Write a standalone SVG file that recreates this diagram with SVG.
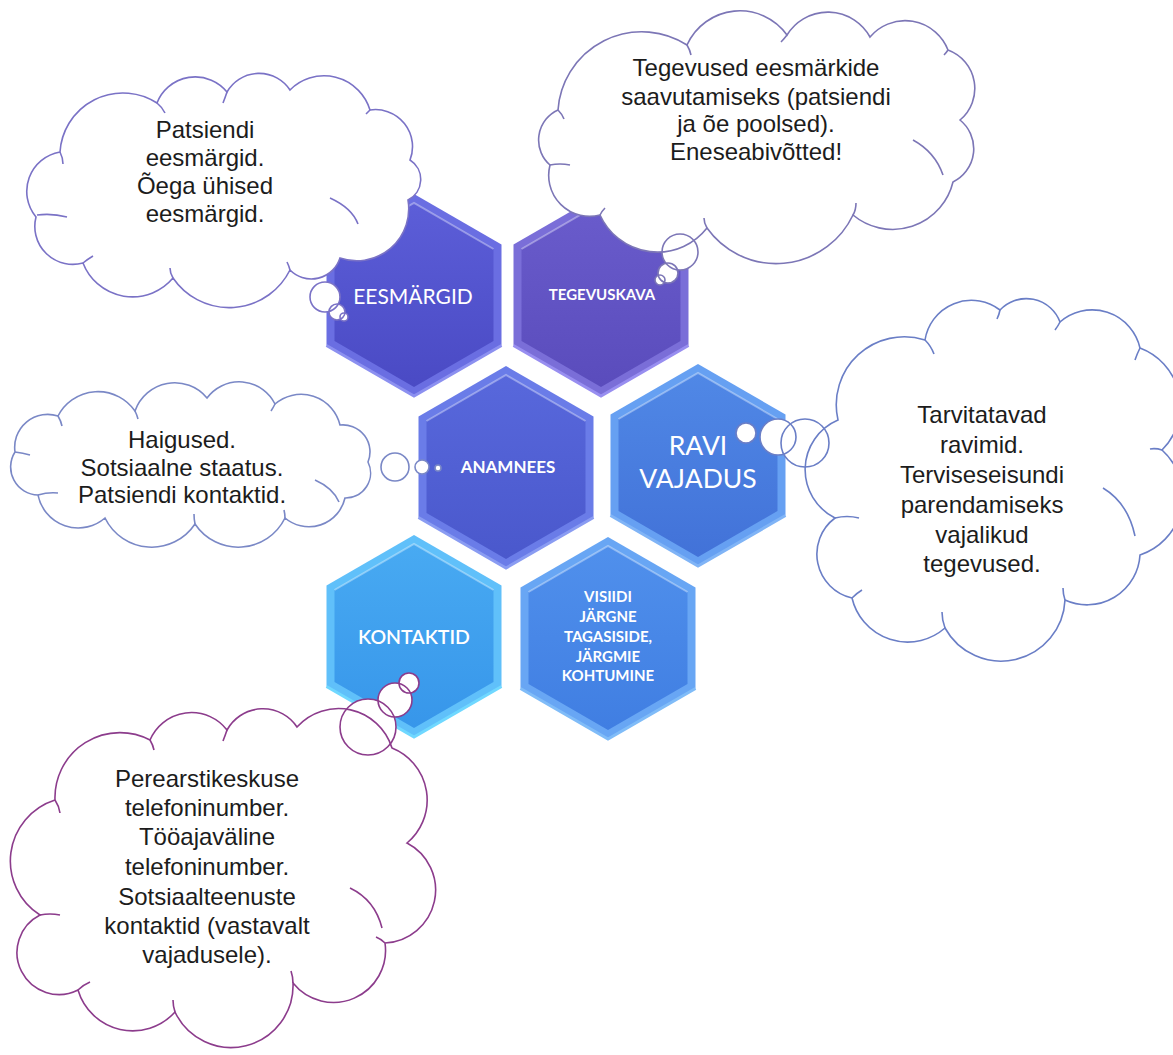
<svg xmlns="http://www.w3.org/2000/svg" width="1173" height="1055" viewBox="0 0 1173 1055">
<style>
.ctext{font-family:"Liberation Sans",Arial,sans-serif;font-size:24px;fill:#1c1c1c;text-anchor:middle}
.htext{font-family:Lato,"Open Sans",sans-serif;fill:#ffffff;text-anchor:middle}
.hb{font-weight:bold}
.cf{fill:#ffffff;stroke:none}
.cs{fill:none;stroke-width:1.6}
.hl{fill:none;stroke:#ffffff;stroke-opacity:0.35;stroke-width:2}
</style>
<defs>
<polygon id="hexO" points="0,-101 87.5,-50.5 87.5,50.5 0,101 -87.5,50.5 -87.5,-50.5"/>
<polygon id="hexI" points="0,-92 79.5,-46 79.5,46 0,92 -79.5,46 -79.5,-46"/>
<polyline id="hexTop" points="-79.5,-46 0,-92 79.5,-46"/>
<polyline id="hexBot" points="-87.5,50.5 0,101 87.5,50.5"/>
<path id="c1" d="M60,152 A63,63 0 0 1 157,103 A41,41 0 0 1 227,92 A37,37 0 0 1 290,90 A48,48 0 0 1 370,110 A37,37 0 0 1 410,160 A23,23 0 0 1 408,200 A52,52 0 0 1 340,258 A30,30 0 0 1 290,270 A68,68 0 0 1 173,278 A53,53 0 0 1 83,263 A38,38 0 0 1 36,217 A40,40 0 0 1 60,152 Z"/>
<path id="c2" d="M558,110 A84,84 0 0 1 687,45 A58,58 0 0 1 787,35 A48,48 0 0 1 870,37 A46,46 0 0 1 948,50 A41,41 0 0 1 960,120 A37,37 0 0 1 953,182 A62,62 0 0 1 853,215 A85,85 0 0 1 707,228 A63,63 0 0 1 600,215 A41,41 0 0 1 550,165 A33,33 0 0 1 558,110 Z"/>
<path id="c3" d="M15,452 A33,33 0 0 1 58,416 A45,45 0 0 1 135,411 A42,42 0 0 1 207,398 A40,40 0 0 1 275,404 A40,40 0 0 1 340,425 A27,27 0 0 1 368,462 A25,25 0 0 1 345,498 A37,37 0 0 1 285,518 A52,52 0 0 1 195,524 A52,52 0 0 1 105,518 A41,41 0 0 1 38,495 A28,28 0 0 1 15,452 Z"/>
<path id="c4" d="M838,420 A68,68 0 0 1 925,340 A47,47 0 0 1 1000,310 A36,36 0 0 1 1060,322 A49,49 0 0 1 1140,348 A62,62 0 0 1 1162,450 A62,62 0 0 1 1140,555 A53,53 0 0 1 1065,600 A64,64 0 0 1 945,628 A57,57 0 0 1 852,598 A45,45 0 0 1 835,518 A54,54 0 0 1 838,420 Z"/>
<path id="c5" d="M55,800 A65,65 0 0 1 150,740 A45,45 0 0 1 227,730 A41,41 0 0 1 297,727 A56,56 0 0 1 392,748 A56,56 0 0 1 407,843 A53,53 0 0 1 385,943 A52,52 0 0 1 293,983 A62,62 0 0 1 175,1012 A57,57 0 0 1 78,990 A42,42 0 0 1 40,915 A64,64 0 0 1 55,800 Z"/>
<linearGradient id="g1" x1="0" y1="0" x2="0" y2="1"><stop offset="0" stop-color="#5c5ed8"/><stop offset="1" stop-color="#4a4ac4"/></linearGradient>
<linearGradient id="g2" x1="0" y1="0" x2="0" y2="1"><stop offset="0" stop-color="#6a5ccc"/><stop offset="1" stop-color="#5a4cbc"/></linearGradient>
<linearGradient id="g3" x1="0" y1="0" x2="0" y2="1"><stop offset="0" stop-color="#5868dc"/><stop offset="1" stop-color="#4a58cc"/></linearGradient>
<linearGradient id="g4" x1="0" y1="0" x2="0" y2="1"><stop offset="0" stop-color="#5088e6"/><stop offset="1" stop-color="#4272d8"/></linearGradient>
<linearGradient id="g5" x1="0" y1="0" x2="0" y2="1"><stop offset="0" stop-color="#48aaf2"/><stop offset="1" stop-color="#3796ea"/></linearGradient>
<linearGradient id="g6" x1="0" y1="0" x2="0" y2="1"><stop offset="0" stop-color="#5090ec"/><stop offset="1" stop-color="#407ee2"/></linearGradient>
</defs>
<rect width="1173" height="1055" fill="#ffffff"/>

<g id="hex-eesmargid" transform="translate(414,295)">
<use href="#hexO" fill="#6a6ee2"/><use href="#hexI" fill="url(#g1)"/><use href="#hexTop" class="hl"/><use href="#hexBot" fill="none" stroke="#8c90f0" stroke-width="3"/>
<text class="htext" x="-1" y="9" font-size="21">EESMÄRGID</text>
</g>
<g id="hex-tegevuskava" transform="translate(601,295)">
<use href="#hexO" fill="#7a6ed8"/><use href="#hexI" fill="url(#g2)"/><use href="#hexTop" class="hl"/><use href="#hexBot" fill="none" stroke="#988ef0" stroke-width="3"/>
<text class="htext hb" x="1" y="5" font-size="15">TEGEVUSKAVA</text>
</g>
<g id="hex-anamnees" transform="translate(506,467)">
<use href="#hexO" fill="#6a7ce8"/><use href="#hexI" fill="url(#g3)"/><use href="#hexTop" class="hl"/><use href="#hexBot" fill="none" stroke="#8a9cf2" stroke-width="3"/>
<text class="htext hb" x="2" y="6" font-size="17">ANAMNEES</text>
</g>
<g id="hex-ravi" transform="translate(698,465)">
<use href="#hexO" fill="#66a0f2"/><use href="#hexI" fill="url(#g4)"/><use href="#hexTop" class="hl"/><use href="#hexBot" fill="none" stroke="#80b4f6" stroke-width="3"/>
<text class="htext" x="0" y="-10" font-size="26.5">RAVI</text>
<text class="htext" x="0" y="23" font-size="26.5">VAJADUS</text>
</g>
<g id="hex-kontaktid" transform="translate(414,636)">
<use href="#hexO" fill="#60c0fa"/><use href="#hexI" fill="url(#g5)"/><use href="#hexTop" class="hl"/><use href="#hexBot" fill="none" stroke="#70d8ff" stroke-width="3"/>
<text class="htext" x="0" y="8" font-size="19.5" font-weight="600">KONTAKTID</text>
</g>
<g id="hex-visiidi" transform="translate(608,638)">
<use href="#hexO" fill="#68a6f4"/><use href="#hexI" fill="url(#g6)"/><use href="#hexTop" class="hl"/><use href="#hexBot" fill="none" stroke="#80bcf8" stroke-width="3"/>
<text class="htext hb" font-size="15"><tspan x="0" y="-36">VISIIDI</tspan><tspan x="0" y="-16">JÄRGNE</tspan><tspan x="0" y="4">TAGASISIDE,</tspan><tspan x="0" y="24">JÄRGMIE</tspan><tspan x="0" y="43">KOHTUMINE</tspan></text>
</g>

<g id="connectors">
<g id="cloud-eesmargid">
<use href="#c1" class="cf"/>
<circle class="cf" cx="325" cy="297" r="15"/><circle class="cf" cx="337" cy="312" r="8"/><circle class="cf" cx="344" cy="317" r="4"/>
<g stroke="#7a72c6">
<use href="#c1" class="cs"/>
<circle class="cs" cx="325" cy="297" r="15"/><circle class="cs" cx="337" cy="312" r="8"/><circle class="cs" cx="344" cy="317" r="4"/>
<path class="cs" d="M60,152 q3,6 3,12 M157,103 q5,4 8,10 M227,92 q-2,6 -4,11 M370,110 q-2,2 -4,4 M330,198 q22,10 28,26 M37,215 q15,-2 30,2 M173,278 q-3,-5 -3,-10 M83,263 q5,-4 10,-7 M290,270 q-1,-4 -3,-8"/>
</g>
</g>
<g id="cloud-tegevuskava">
<use href="#c2" class="cf"/>
<circle class="cf" cx="680" cy="252" r="18"/><circle class="cf" cx="668" cy="273" r="10"/><circle class="cf" cx="660" cy="280" r="5"/>
<g stroke="#7c76b6">
<use href="#c2" class="cs"/>
<circle class="cs" cx="680" cy="252" r="18"/><circle class="cs" cx="668" cy="273" r="10"/><circle class="cs" cx="660" cy="280" r="5"/>
<path class="cs" d="M687,45 q3,5 4,10 M787,35 q-3,4 -6,7 M948,50 q-2,3 -4,5 M913,140 q22,12 30,35 M550,165 q10,-2 20,0 M853,215 q3,-5 3,-12 M707,228 q-3,-5 -3,-10 M600,215 q2,-4 5,-7 M558,110 q4,4 6,9"/>
</g>
</g>
<g id="cloud-anamnees">
<use href="#c3" class="cf"/>
<circle class="cf" cx="395" cy="467" r="14"/><circle class="cf" cx="422" cy="467" r="7"/><circle class="cf" cx="438" cy="468" r="3"/>
<g stroke="#7a88c6">
<use href="#c3" class="cs"/>
<circle class="cs" cx="395" cy="467" r="14"/><circle class="cs" cx="422" cy="467" r="7"/><circle class="cs" cx="438" cy="468" r="3"/>
<path class="cs" d="M58,416 q3,5 4,10 M135,411 q2,4 3,8 M275,404 q-2,4 -4,7 M315,480 q18,8 24,22 M38,495 q10,-3 20,-2 M15,452 q8,1 15,3 M195,524 q-1,-5 -1,-10 M285,518 q0,-4 -1,-8"/>
</g>
</g>
<g id="cloud-ravi">
<use href="#c4" class="cf"/>
<circle class="cf" cx="746" cy="433" r="10"/><circle class="cf" cx="778" cy="437" r="18"/><circle class="cf" cx="805" cy="443" r="24"/>
<g stroke="#6a7ec6">
<use href="#c4" class="cs"/>
<circle class="cs" cx="746" cy="433" r="10"/><circle class="cs" cx="778" cy="437" r="18"/><circle class="cs" cx="805" cy="443" r="24"/>
<path class="cs" d="M925,340 q6,6 9,14 M1000,310 q-1,5 -3,9 M1060,322 q-2,4 -5,8 M1140,348 q-3,6 -5,12 M1103,488 q25,15 32,48 M835,518 q12,-3 24,0 M945,628 q-3,-8 -3,-16 M1065,600 q-2,-6 -2,-12 M852,598 q5,-5 10,-8 M1162,450 q-6,-2 -12,-1"/>
</g>
</g>
<g id="cloud-kontaktid">
<use href="#c5" class="cf"/>
<circle class="cf" cx="368" cy="727" r="28"/><circle class="cf" cx="395" cy="700" r="17"/><circle class="cf" cx="409" cy="683" r="10"/>
<g stroke="#8c3c8c">
<use href="#c5" class="cs"/>
<circle class="cs" cx="368" cy="727" r="28"/><circle class="cs" cx="395" cy="700" r="17"/><circle class="cs" cx="409" cy="683" r="10"/>
<path class="cs" d="M55,800 q4,6 5,13 M150,740 q3,5 4,10 M227,730 q-2,6 -4,11 M350,888 q25,12 32,40 M40,915 q10,-2 20,0 M78,990 q5,-5 12,-8 M175,1012 q-2,-6 -2,-12 M293,983 q0,-6 -2,-12 M385,943 q-4,-4 -9,-6"/>
</g>
</g>
</g>

<text class="ctext"><tspan x="205" y="138">Patsiendi</tspan><tspan x="205" y="166">eesmärgid.</tspan><tspan x="205" y="194">Õega ühised</tspan><tspan x="205" y="222">eesmärgid.</tspan></text>
<text class="ctext"><tspan x="756" y="76">Tegevused eesmärkide</tspan><tspan x="756" y="105">saavutamiseks (patsiendi</tspan><tspan x="756" y="132">ja õe poolsed).</tspan><tspan x="756" y="160">Eneseabivõtted!</tspan></text>
<text class="ctext"><tspan x="182" y="448">Haigused.</tspan><tspan x="182" y="476">Sotsiaalne staatus.</tspan><tspan x="182" y="503">Patsiendi kontaktid.</tspan></text>
<text class="ctext"><tspan x="982" y="423">Tarvitatavad</tspan><tspan x="982" y="453">ravimid.</tspan><tspan x="982" y="483">Terviseseisundi</tspan><tspan x="982" y="513">parendamiseks</tspan><tspan x="982" y="543">vajalikud</tspan><tspan x="982" y="572">tegevused.</tspan></text>
<text class="ctext"><tspan x="207" y="787">Perearstikeskuse</tspan><tspan x="207" y="816">telefoninumber.</tspan><tspan x="207" y="845">Tööajaväline</tspan><tspan x="207" y="875">telefoninumber.</tspan><tspan x="207" y="905">Sotsiaalteenuste</tspan><tspan x="207" y="934">kontaktid (vastavalt</tspan><tspan x="207" y="963">vajadusele).</tspan></text>
</svg>
